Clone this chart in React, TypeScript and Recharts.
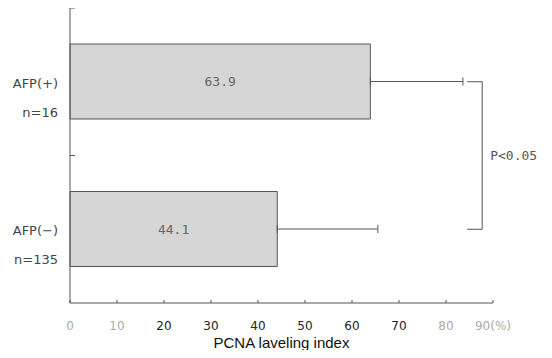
import { BarChart, Bar, XAxis, YAxis, ErrorBar, LabelList, ReferenceLine, Label } from 'recharts';

const groups = ['AFP(+)', 'AFP(-)'];
const counts = ['n=16', 'n=135'];
const means = [63.9, 44.1];
const sds = [19.7, 21.4];
const xTicks = [0, 10, 20, 30, 40, 50, 60, 70, 80, 90];
const xTickLabels = ['0', '10', '20', '30', '40', '50', '60', '70', '80', '90(%)'];
const fadedTicks = [0, 10, 80, 90];
const bracketX = [84.5, 87.7];
const pText = 'P<0.05';

const data = groups.map((g, i) => ({ group: g, n: counts[i], mean: means[i], err: [0, sds[i]] }));

const bandHalf = (303 - 8) / groups.length / 2;
const ink = '#555';

function GroupTick(props: any) {
  const { x, y, payload, index } = props;
  return (
    <g>
      <line x1={70} x2={75} y1={y - bandHalf} y2={y - bandHalf} stroke={ink} />
      <text x={x - 12} y={y + 6} textAnchor="end" fontSize={13} fill="#444" fontFamily="DejaVu Sans">
        {payload.value.replace('-', '\u2212')}
      </text>
      <text x={x - 12} y={y + 35} textAnchor="end" fontSize={13} fill="#444" fontFamily="DejaVu Sans">
        {counts[index]}
      </text>
    </g>
  );
}

function ValueTick(props: any) {
  const { x, y, payload, index } = props;
  const faded = fadedTicks.includes(payload.value);
  return (
    <g>
      <line x1={x} x2={x} y1={y - 3} y2={y} stroke={ink} />
      <text x={x} y={y + 27} textAnchor="middle" fontSize={12} fill={faded ? '#aaa' : '#222'} fontFamily="DejaVu Sans">
        {xTickLabels[index]}
      </text>
    </g>
  );
}

export default function App() {
  return (
    <div style={{ margin: -8, background: '#fff' }}>
      <BarChart
        width={552}
        height={358}
        data={data}
        layout="vertical"
        margin={{ top: 8, right: 59, bottom: 0, left: 0 }}
      >
        <XAxis
          type="number"
          domain={[0, 90]}
          ticks={xTicks}
          interval={0}
          tickLine={false}
          tickSize={0}
          tickMargin={0}
          tick={<ValueTick />}
          axisLine={{ stroke: ink }}
          height={55}
        >
          <Label value="PCNA laveling index" position="insideBottom" offset={10} fontSize={15} fill="#111" fontFamily="Liberation Sans" />
        </XAxis>
        <YAxis
          type="category"
          dataKey="group"
          width={70}
          tickLine={false}
          tickSize={0}
          tickMargin={0}
          tick={<GroupTick />}
          axisLine={{ stroke: ink }}
        />
        <Bar dataKey="mean" barSize={75} fill="#d6d6d6" stroke={ink} strokeWidth={1} isAnimationActive={false}>
          <LabelList dataKey="mean" position="center" fontSize={13} fill="#666" fontFamily="DejaVu Sans Mono" />
          <ErrorBar dataKey="err" direction="x" width={4} stroke={ink} strokeWidth={1} isAnimationActive={false} />
        </Bar>
        <ReferenceLine
          segment={[{ x: bracketX[0], y: groups[0] }, { x: bracketX[1], y: groups[0] }]}
          stroke={ink}
          ifOverflow="visible"
        />
        <ReferenceLine
          segment={[{ x: bracketX[0], y: groups[1] }, { x: bracketX[1], y: groups[1] }]}
          stroke={ink}
          ifOverflow="visible"
        />
        <ReferenceLine
          segment={[{ x: bracketX[1], y: groups[0] }, { x: bracketX[1], y: groups[1] }]}
          stroke={ink}
          ifOverflow="visible"
          label={{ value: pText, position: 'right', offset: 8, fontSize: 13, fill: '#555', fontFamily: 'DejaVu Sans Mono' }}
        />
      </BarChart>
    </div>
  );
}
